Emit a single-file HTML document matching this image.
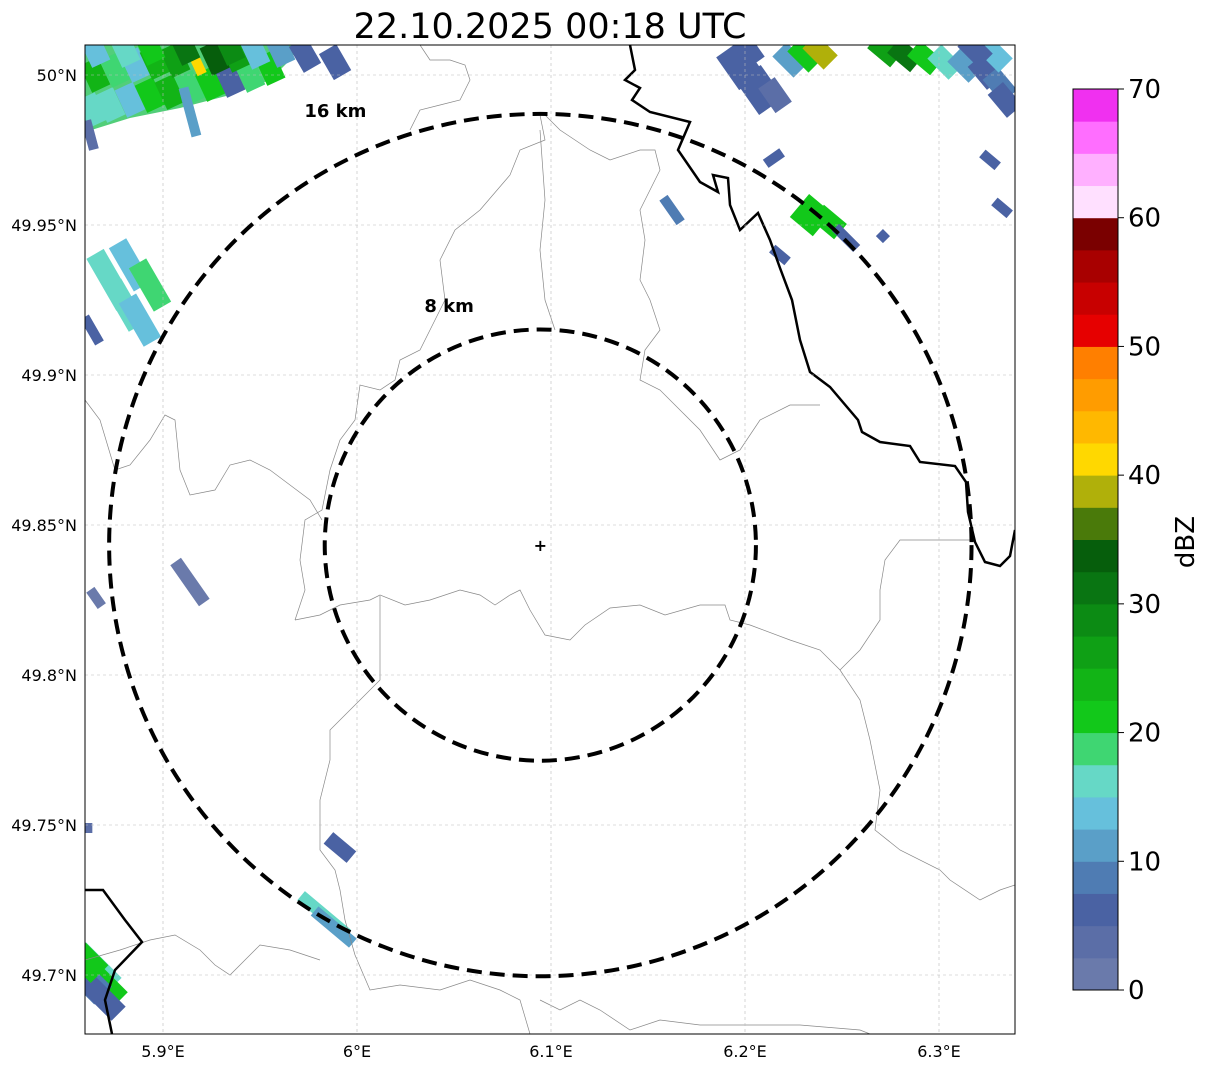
<!DOCTYPE html>
<html><head><meta charset="utf-8">
<style>
html,body{margin:0;padding:0;background:#fff;width:1207px;height:1069px;overflow:hidden;font-family:"Liberation Sans","DejaVu Sans",sans-serif;}
</style></head>
<body>
<svg id="chart" width="1207" height="1069" xmlns="http://www.w3.org/2000/svg" font-family="DejaVu Sans, Liberation Sans, sans-serif">
<text x="550" y="38" font-size="35" text-anchor="middle">22.10.2025 00:18 UTC</text>
<defs><clipPath id="mapclip"><rect x="85" y="45" width="930" height="989"/></clipPath></defs>
<g id="map" clip-path="url(#mapclip)"></g>
<rect x="85" y="45" width="930" height="989" fill="none" stroke="#000" stroke-width="1"/>
<g id="axes"></g>
<g id="cbar"></g>
</svg>
<script>
// ----- data -----
const lonTicks = [5.9, 6.0, 6.1, 6.2, 6.3];
const lonLabels = ["5.9°E","6°E","6.1°E","6.2°E","6.3°E"];
const latTicks = [50.0, 49.95, 49.9, 49.85, 49.8, 49.75, 49.7];
const latLabels = ["50°N","49.95°N","49.9°N","49.85°N","49.8°N","49.75°N","49.7°N"];
const cbarTicks = [0,10,20,30,40,50,60,70];
const cbarColors = ["#6a7aab","#5b6ea7","#4a62a3","#4f7cb3","#5a9fc8","#66c0dc","#66d8c6","#3fd672","#12c81a","#12b416","#0fa015","#0c8b14","#097512","#065e0c","#4a7a0a","#b0b00a","#ffd800","#ffb800","#ff9c00","#ff7f00","#e60000","#c80000","#a80000","#7a0000","#ffe0ff","#ffb0ff","#ff6eff","#f030f0"];
// echo cells: lon, lat, dBZ, long extent (gates), short extent (gates), orientation (deg)
const echoLon = [5.8634,5.8727,5.8830,5.8933,5.9036,5.9139,5.9242,5.9345,5.9448,5.9552,5.8649,5.8753,5.8856,5.8959,5.9062,5.9180,5.9268,5.9371,5.9474,5.9603,5.8649,5.8804,5.8933,5.9113,5.9345,5.9139,5.8624,5.9732,5.9887,
 6.1974,6.2077,6.2155,6.2015,6.2232,6.2309,6.2387,6.2722,6.2825,6.2928,6.3031,6.3134,6.3237,6.3314,6.3340,6.3289,6.3186,
 6.2149,6.1624,6.2340,6.2433,6.2521,6.2180,6.2711,6.3263,6.3325,
 5.8727,5.8830,5.8933,5.8804,5.8881,5.8634,5.9139,5.8655,5.9912,5.9830,5.9880,5.8650,5.8700,5.8600,5.8610,5.8680,5.8600];
const echoLat = [49.9883,49.9900,49.9917,49.9933,49.9943,49.9957,49.9970,49.9983,50.0000,50.0023,50.0000,50.0017,50.0033,50.0043,50.0050,50.0033,50.0057,50.0067,50.0077,50.0083,50.0083,50.0083,50.0090,50.0090,50.0090,49.9877,49.9800,50.0067,50.0043,
 50.0033,49.9950,49.9933,50.0083,50.0050,50.0067,50.0077,50.0083,50.0067,50.0057,50.0043,50.0033,50.0010,49.9967,49.9917,50.0067,50.0083,
 49.9723,49.9550,49.9533,49.9510,49.9457,49.9400,49.9463,49.9717,49.9557,
 49.9317,49.9367,49.9300,49.9233,49.9183,49.9150,49.8310,49.8257,49.7425,49.7200,49.7160,49.7020,49.6960,49.6990,49.7490,49.6930,49.7050];
const echoDbz = [15,17,13,20,24,18,21,6,18,20,24,18,14,24,26,40,33,25,14,12,13,16,22,30,28,12,3,6,5,
 5,6,4,7,12,22,38,25,30,20,16,10,6,8,5,14,6,
 6,8,22,20,6,5,5,6,5,
 17,14,18,15,13,6,2,2,5,16,10,17,22,8,3,6,20];
const echoLen = [3,3,3,3,3,3,3,3,3,3,3,3,3,3,3,2,3,3,3,3,3,3,3,3,3,5,3,3,3,
 4,4,3,3,3,3,3,3,3,3,3,3,3,3,3,3,3,
 2,3,3,3,3,2,1,2,2,
 6,5,5,5,5,3,5,2,3,6,5,5,4,5,1,5,4];
const echoWid = [2,2,2,2,2,2,2,2,2,2,2,2,2,2,2,1,2,2,2,2,2,2,2,2,2,1,1,2,2,
 3,3,2,2,2,2,2,2,2,2,2,2,2,2,2,2,2,
 1,1,3,2,1,1,1,1,1,
 2,2,2,2,2,1,1.3,1,1.5,1.2,1.2,2.5,2.5,2.5,1,2,2.5];
const echoAng = [65,65,65,65,65,65,65,65,65,65,65,65,65,65,65,65,65,65,65,65,65,65,65,65,65,75,75,60,60,
 55,55,55,55,45,45,45,40,40,40,45,45,50,50,50,45,45,
 -35,55,40,40,45,40,45,40,40,
 60,60,60,60,60,60,55,55,40,40,40,45,45,45,0,45,45];
const ringKm = [8, 16];
const ringLabelDx = [-116, -236];
const ringLabelDy = [-233, -428];
const radarLon = 6.0945, radarLat = 49.8433;

// ----- scales -----
const X0=85,X1=1015,Y0=45,Y1=1034;
const GATE=10;
function xs(lon){return 163+(lon-5.9)*1940;}
function ys(lat){return 75+(50-lat)*3000;}
const NS="http://www.w3.org/2000/svg";
function mk(tag,attrs,parent){const e=document.createElementNS(NS,tag);for(const k in attrs)e.setAttribute(k,attrs[k]);parent.appendChild(e);return e;}
function colorFor(d){return cbarColors[Math.max(0,Math.min(27,Math.floor(d/2.5)))];}
const map=document.getElementById('map'), axes=document.getElementById('axes'), cbar=document.getElementById('cbar');

const band=mk('path',{d:"M85,45 L300,45 L290,60 L270,80 L230,95 L180,108 L130,118 L85,132 Z",fill:"#3fc96a",opacity:0.9},map);



echoLon.forEach((lon,i)=>{
  const cx=xs(lon), cy=ys(echoLat[i]), L=echoLen[i]*GATE, W=echoWid[i]*GATE;
  const r=mk('rect',{x:cx-W/2,y:cy-L/2,width:W,height:L,fill:colorFor(echoDbz[i]),transform:`rotate(${echoAng[i]-90} ${cx} ${cy})`},map);
  
  
});

const borders=[
 "M540,115 L545,140 L520,150 L510,175 L480,210 L455,230 L440,260 L445,300 L430,330 L420,350 L400,360 L395,380 L380,390 L360,385 L355,420 L340,440 L330,470 L322,510 L305,520 L300,560 L305,590 L295,620",
 "M85,400 L100,420 L115,470 L130,465 L150,440 L165,415 L175,420 L180,470 L190,495 L215,490 L230,465 L250,460 L270,470 L290,485 L310,500 L322,520",
 "M295,620 L320,615 L340,605 L370,600 L380,595 L405,605 L430,600 L460,590 L480,595 L495,605 L510,595 L520,590 L530,610 L545,635 L570,640 L585,625 L610,608 L640,605 L665,615 L700,605 L725,605 L730,620 L750,625",
 "M380,596 L380,680 L360,700 L345,715 L330,730 L330,760 L320,800 L320,850 L335,870 L340,890 L345,920 L355,955 L370,990 L400,985 L440,990 L470,980 L500,990 L520,1000 L530,1034",
 "M85,960 L120,950 L150,940 L175,935 L200,950 L215,965 L230,975 L245,960 L260,945 L290,950 L320,960",
 "M545,115 L560,130 L590,150 L610,160 L640,150 L655,150 L660,170 L650,190 L640,210 L645,240 L640,280 L650,300 L660,330 L645,350 L640,380 L660,390 L680,410 L700,430 L720,460 L740,450 L760,420 L790,405 L820,405",
 "M540,130 L545,200 L540,250 L545,300 L555,330",
 "M750,625 L790,640 L820,650 L840,670 L860,700 L870,740 L880,790 L875,830 L900,850 L940,870 L950,880 L980,900 L1000,890 L1015,885",
 "M970,540 L900,540 L885,560 L880,590 L880,620 L860,650 L840,670",
 "M540,1000 L560,1010 L580,1000 L600,1010 L630,1030 L660,1020 L700,1025 L740,1025 L800,1025 L860,1030 L870,1034",
 "M420,45 L430,60 L450,60 L465,65 L470,80 L460,100 L440,105 L420,110 L410,130"
];
borders.forEach(d=>{const p=mk('path',{d:d,fill:'none',stroke:'#888',"stroke-width":0.7},map);});
const rivers=[
 "M630,45 L635,70 L625,80 L640,88 L632,100 L650,112 L690,122 L678,150 L700,182 L718,192 L713,175 L728,178 L730,205 L740,230 L758,213 L770,240 L780,268 L792,300 L800,340 L810,372 L830,387 L858,420 L862,432 L880,442 L910,446 L920,462 L955,466 L966,482 L968,512 L975,542 L985,562 L1000,566 L1010,556 L1015,530",
 "M85,890 L103,890 L125,920 L142,942 L115,970 L105,1000 L112,1034"
];
rivers.forEach(d=>{const p=mk('path',{d:d,fill:'none',stroke:'#000',"stroke-width":2.5},map);});

lonTicks.forEach(v=>{const l=mk('line',{x1:xs(v),x2:xs(v),y1:Y0,y2:Y1,stroke:'#bbb',"stroke-width":0.6,"stroke-dasharray":"3,3"},map);});
latTicks.forEach(v=>{const l=mk('line',{x1:X0,x2:X1,y1:ys(v),y2:ys(v),stroke:'#bbb',"stroke-width":0.6,"stroke-dasharray":"3,3"},map);});

const cx0=xs(radarLon), cy0=ys(radarLat);
ringKm.forEach((km,i)=>{
  const rr=km*26.95;
  const c=mk('circle',{cx:cx0,cy:cy0,r:rr,fill:'none',stroke:'#000',"stroke-width":4,"stroke-dasharray":"15,8"},map);
  
  
  const t=mk('text',{x:cx0+ringLabelDx[i],y:cy0+ringLabelDy[i],"font-size":18,"font-weight":"bold"},map);
  t.textContent=km+' km';
  
  
});
const mkr=mk('text',{x:cx0,y:cy0+6,"font-size":16,"font-weight":"bold","text-anchor":"middle"},map);
mkr.textContent='+';



lonTicks.forEach((v,i)=>{const t=mk('text',{x:xs(v),y:1057,"font-size":16,"text-anchor":"middle"},axes);t.textContent=lonLabels[i];});
latTicks.forEach((v,i)=>{const t=mk('text',{x:77,y:ys(v)+6,"font-size":16,"text-anchor":"end"},axes);t.textContent=latLabels[i];});

const CB_X=1073,CB_W=45,CB_T=89,CB_B=990;
function cy(v){return CB_B-(v/70)*(CB_B-CB_T);}
cbarColors.forEach((c,i)=>{const r=mk('rect',{x:CB_X,y:cy((i+1)*2.5),width:CB_W,height:cy(i*2.5)-cy((i+1)*2.5)+0.5,fill:c},cbar);});
const fr=mk('rect',{x:CB_X,y:CB_T,width:CB_W,height:CB_B-CB_T,fill:'none',stroke:'#000',"stroke-width":1},cbar);


cbarTicks.forEach(v=>{
  const l=mk('line',{x1:CB_X+CB_W,x2:CB_X+CB_W+6,y1:cy(v),y2:cy(v),stroke:'#000'},cbar);
  
  
  const t=mk('text',{x:CB_X+CB_W+10,y:cy(v)+9,"font-size":26},cbar);
  t.textContent=v;
  
  
});
const cl=mk('text',{x:1194,y:542,"font-size":26,"text-anchor":"middle",transform:"rotate(-90 1194 542)"},cbar);
cl.textContent='dBZ';


</script>
</body></html>
